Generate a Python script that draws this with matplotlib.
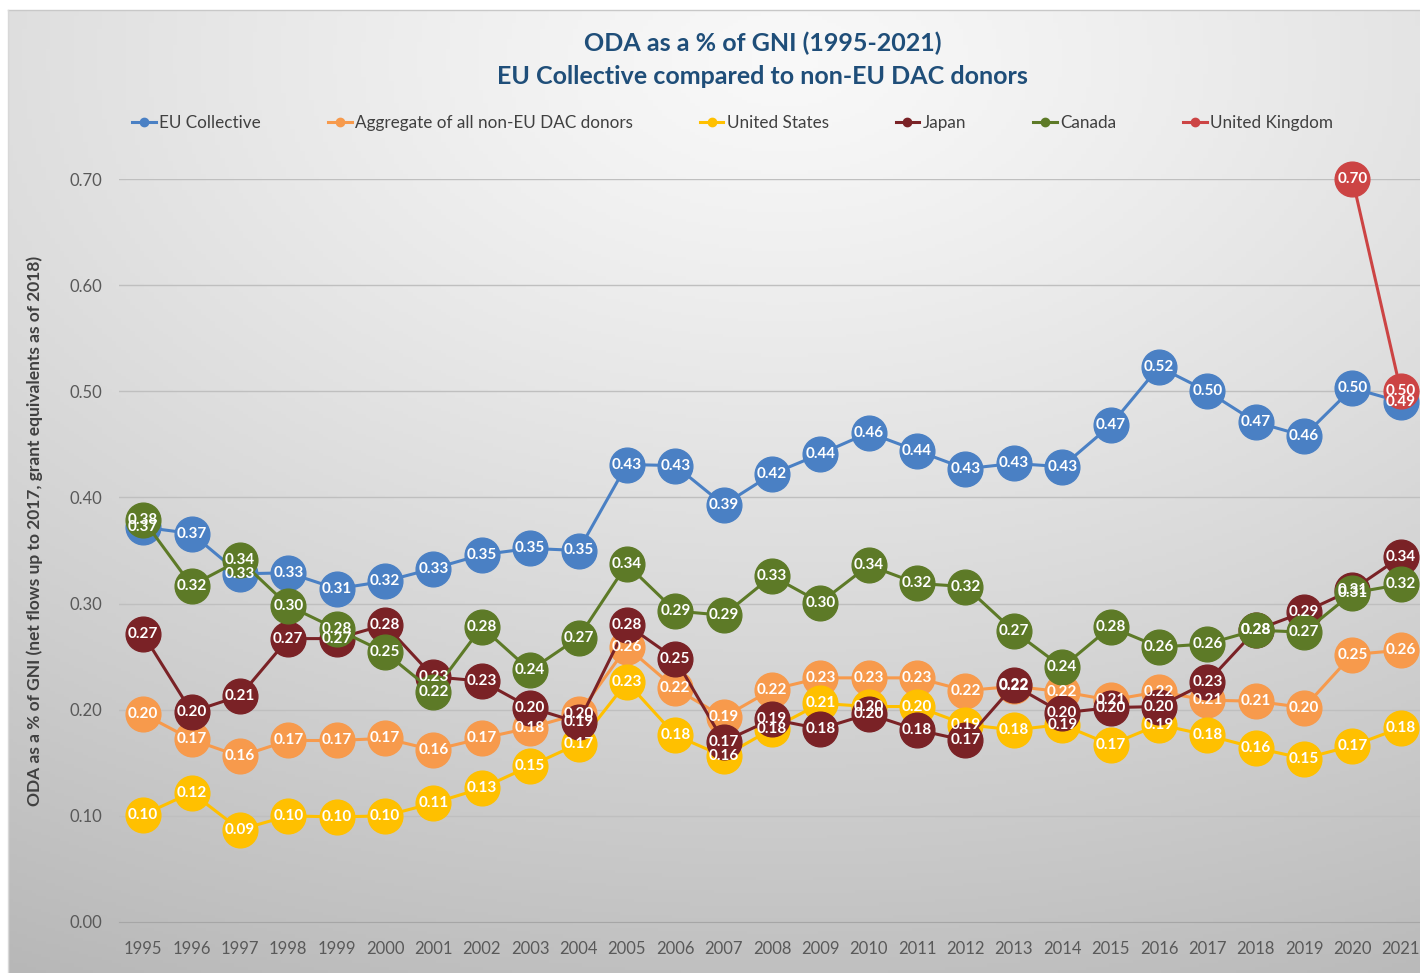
import numpy as np
import matplotlib
matplotlib.use("Agg")
import matplotlib.pyplot as plt
from matplotlib.lines import Line2D

plt.rcParams['font.family'] = ['Lato', 'DejaVu Sans']

# --- DATA ---
years = list(range(1995, 2022))

eu = [0.372, 0.366, 0.328, 0.329, 0.314, 0.321, 0.333, 0.346, 0.352, 0.350,
      0.431, 0.430, 0.393, 0.422, 0.441, 0.461, 0.444, 0.427, 0.432, 0.429,
      0.468, 0.523, 0.500, 0.471, 0.458, 0.503, 0.490]
non_eu = [0.196, 0.172, 0.156, 0.171, 0.171, 0.173, 0.162, 0.173, 0.183, 0.196,
          0.259, 0.220, 0.193, 0.219, 0.230, 0.230, 0.230, 0.218, 0.222, 0.217,
          0.209, 0.217, 0.209, 0.208, 0.202, 0.252, 0.256]
usa = [0.101, 0.122, 0.087, 0.100, 0.099, 0.100, 0.112, 0.126, 0.147, 0.168,
       0.226, 0.176, 0.156, 0.182, 0.206, 0.203, 0.203, 0.186, 0.181, 0.186,
       0.167, 0.186, 0.176, 0.164, 0.154, 0.166, 0.183]
japan = [0.271, 0.198, 0.213, 0.267, 0.267, 0.280, 0.231, 0.227, 0.202, 0.188,
         0.280, 0.248, 0.170, 0.191, 0.182, 0.196, 0.181, 0.171, 0.223, 0.197,
         0.202, 0.203, 0.226, 0.275, 0.292, 0.313, 0.344]
canada = [0.379, 0.317, 0.341, 0.298, 0.276, 0.254, 0.217, 0.278, 0.237, 0.268,
          0.337, 0.293, 0.289, 0.326, 0.301, 0.336, 0.319, 0.316, 0.274, 0.240,
          0.278, 0.259, 0.262, 0.275, 0.273, 0.310, 0.318]
uk_years = [2020, 2021]
uk = [0.700, 0.500]

series = [
    ("EU Collective", years, eu, "#4a80c4"),
    ("Aggregate of all non-EU DAC donors", years, non_eu, "#f79a4c"),
    ("United States", years, usa, "#ffc000"),
    ("Japan", years, japan, "#7a2226"),
    ("Canada", years, canada, "#5d7a27"),
    ("United Kingdom", uk_years, uk, "#cc4444"),
]

# --- FIGURE ---
fig = plt.figure(figsize=(14.2, 9.73), dpi=100)
fig.patch.set_facecolor("white")

# gradient background for the chart area
bg = fig.add_axes([8 / 1420, 0, 1 - 8 / 1420, 1 - 10 / 973], zorder=0)
gx, gy = np.meshgrid(np.linspace(0, 1, 300), np.linspace(0, 1, 300))
dist = np.sqrt(((gx - 0.55) * 1.0) ** 2 + ((gy - 0.05) * 1.1) ** 2)
shade = 0.975 - 0.21 * np.clip(dist, 0, 1.2) ** 1.2
bg.imshow(np.dstack([shade, shade, shade]), aspect="auto", extent=[0, 1, 1, 0],
          origin="upper", vmin=0, vmax=1)
bg.set_axis_off()
# thin frame line on the top/left of the chart area
fig.add_artist(Line2D([8 / 1420, 1], [1 - 10 / 973, 1 - 10 / 973], color="#c8c8c8", lw=1))
fig.add_artist(Line2D([8 / 1420, 8 / 1420], [0, 1 - 10 / 973], color="#d8d8d8", lw=1))

ax = fig.add_axes([119 / 1420, 51 / 973, 1306 / 1420, 743 / 973], zorder=1)
ax.patch.set_alpha(0)

for name, xs, ys, col in series:
    ax.plot(xs, ys, color=col, lw=2.2, marker="o", markersize=25,
            markeredgecolor=col, zorder=3, label=name, clip_on=False)

for name, xs, ys, col in series:
    for x, y in zip(xs, ys):
        ax.text(x, y, f"{y:.2f}", color="white", fontsize=11, fontweight="bold",
                ha="center", va="center", zorder=5)

ax.set_xlim(1994.5, 2021.5)
ax.set_ylim(0, 0.70)
ax.set_xticks(years)
ax.set_xticklabels([str(y) for y in years])
ax.set_yticks(np.arange(0, 0.71, 0.1))
ax.set_yticklabels([f"{v:.2f}" for v in np.arange(0, 0.71, 0.1)])
ax.tick_params(axis="both", length=0, labelsize=12, labelcolor="#595959")
ax.tick_params(axis="x", pad=14)
ax.tick_params(axis="y", pad=12)
ax.grid(axis="y", color="#bfbfbf", lw=1, zorder=0)
for s in ["top", "right", "left"]:
    ax.spines[s].set_visible(False)
ax.spines["bottom"].set_color("#a6a6a6")

fig.text(35 / 1420, 1 - 531 / 973,
         "ODA as a % of GNI (net flows up to 2017, grant equivalents as of 2018)",
         rotation=90, ha="center", va="center", fontsize=12.5, fontweight="bold",
         color="#404040")

fig.text(0.537, 1 - 43 / 973, "ODA as a % of GNI (1995-2021)", ha="center",
         va="center", fontsize=18, fontweight="bold", color="#1f4e79")
fig.text(0.537, 1 - 77 / 973, "EU Collective compared to non-EU DAC donors",
         ha="center", va="center", fontsize=18, fontweight="bold", color="#1f4e79")

handles = [Line2D([0], [0], color=c, lw=2.2, marker="o", markersize=6)
           for _, _, _, c in series]
fig.legend(handles, [s[0] for s in series], loc="center", ncol=6,
           bbox_to_anchor=(0.516, 1 - 123 / 973), frameon=False, fontsize=12.3,
           labelcolor="#404040", handlelength=1.4, handletextpad=0.2,
           columnspacing=3.9)

fig.savefig("out.png", dpi=100)
